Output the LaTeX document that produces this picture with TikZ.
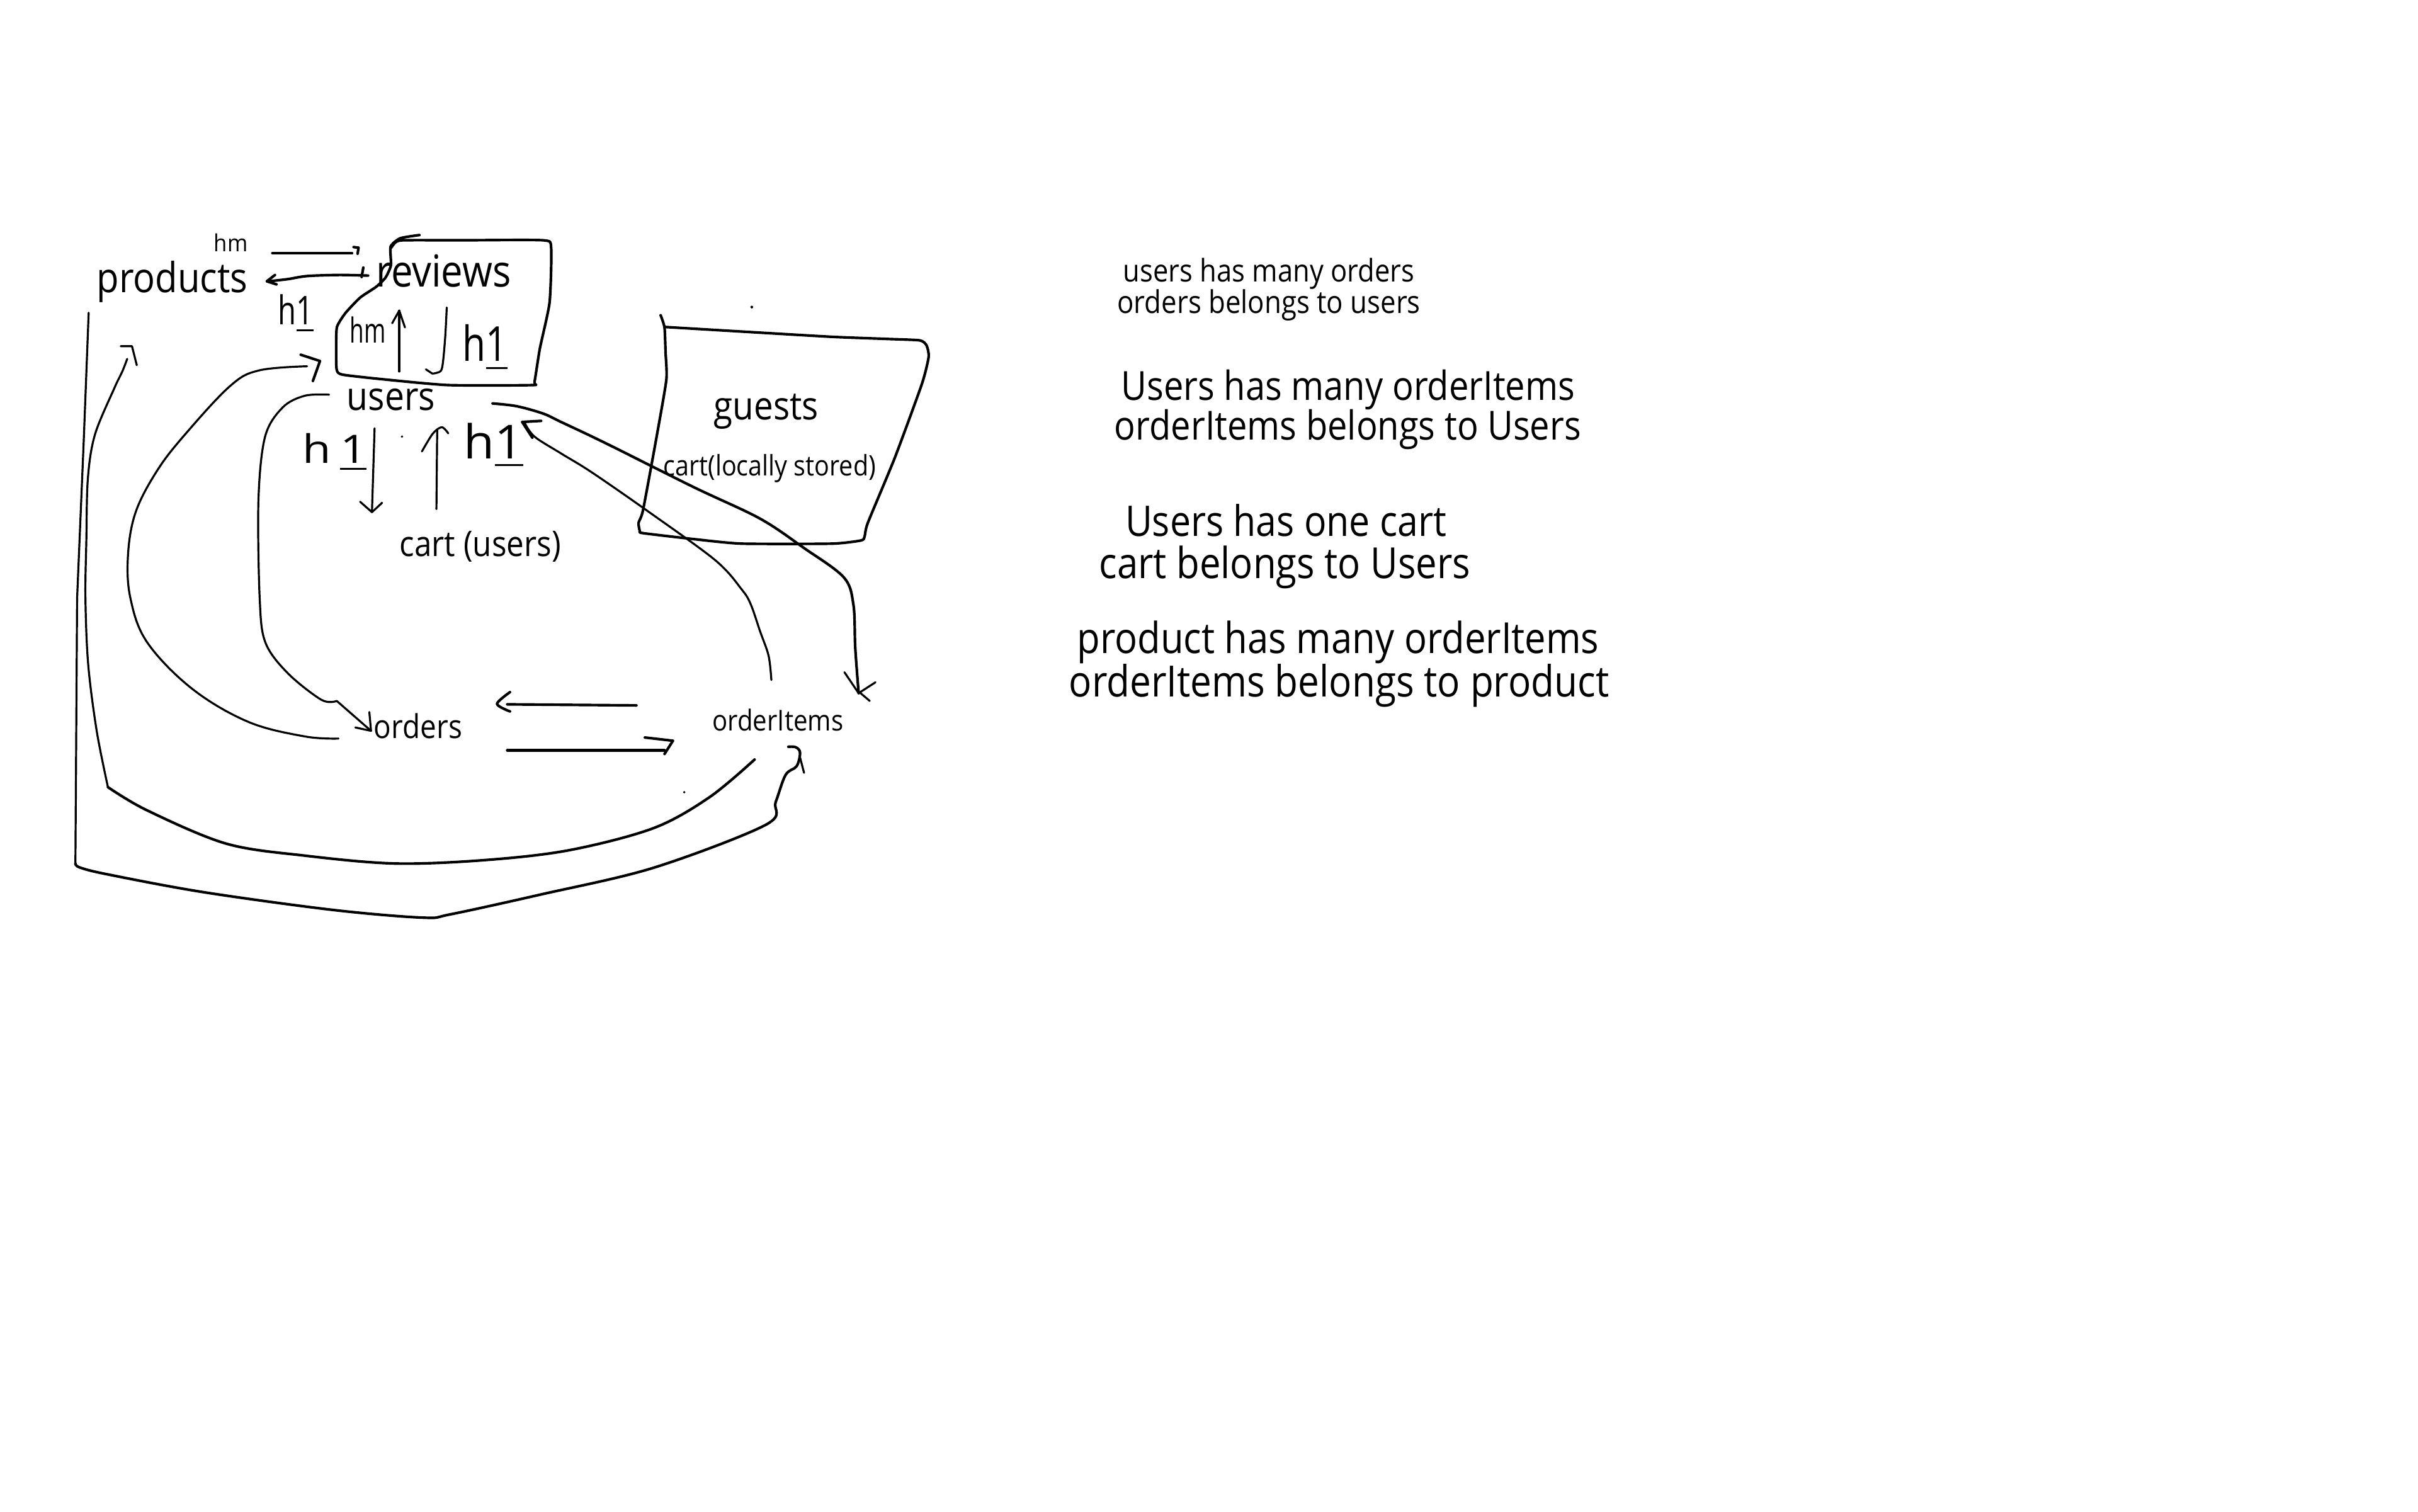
\documentclass[tikz,border=0pt]{standalone}
\usepackage{fontspec}
\usepackage{graphicx}
\setmainfont{Open Sans}[FakeStretch=0.88]
\newcommand{\fitw}[2]{\resizebox{#1pt}{!}{#2}}
\newcommand{\fitbox}[3]{\resizebox*{#1pt}{#2pt}{#3}}
\tikzset{
  lbl/.style={inner sep=0pt, outer sep=0pt, anchor=base west},
  hand/.style={inner sep=0pt, outer sep=0pt, anchor=south west},
  pen/.style={line width=1.7pt, line cap=round, line join=round},
  thinpen/.style={line width=1.3pt, line cap=round, line join=round},
  dot/.style={fill=black, draw=none},
}
\begin{document}
\begin{tikzpicture}[x=1pt,y=-1pt]
\useasboundingbox[fill=white] (0,0) rectangle (1568,980);

% ---- main labels ----
\node[lbl] (products) at (62.7,189.8) {\fitw{98}{products}};
\node[lbl] (reviews) at (243.9,185.8) {\fitw{87.5}{reviews}};
\node[lbl] (users) at (224.9,266.1) {\fitw{57.3}{users}};
\node[lbl] (guests) at (463,272.2) {\fitw{67.8}{guests}};
\node[lbl] (cartlocal) at (430.2,308.3) {\fitw{137.8}{cart(locally stored)}};
\node[lbl] (cartusers) at (259.2,360.7) {\fitw{104.6}{cart (users)}};
\node[lbl] (orders) at (242.5,478.9) {\fitw{57.2}{orders}};
\node[lbl] (orderitems) at (462,473.9) {\fitw{84.9}{orderItems}};

% ---- right-hand notes ----
\node[lbl] (t1a) at (728.4,182.9) {\fitw{188.8}{users has many orders}};
\node[lbl] (t1b) at (724.5,203.0) {\fitw{196.6}{orders belongs to users}};
\node[lbl] (t2a) at (727.1,259.6) {\fitw{294.2}{Users has many orderItems}};
\node[lbl] (t2b) at (722.7,285.1) {\fitw{302.5}{orderItems belongs to Users}};
\node[lbl] (t3a) at (729.7,347.7) {\fitw{208.3}{Users has one cart}};
\node[lbl] (t3b) at (712.8,375.1) {\fitw{240.8}{cart belongs to Users}};
\node[lbl] (t4a) at (698.4,423.8) {\fitw{338.5}{product has many orderItems}};
\node[lbl] (t4b) at (693.2,452.0) {\fitw{350.3}{orderItems belongs to product}};

% ---- handwritten marks ----
\node[hand] (hmtop) at (138.7,163.3) {\fitbox{21.9}{11.6}{hm}};
\node[hand] (h1prod) at (180.4,215.7) {\fitbox{22.9}{24.7}{h\underline{1}}};
\node[hand] (hmrev) at (226.8,222.5) {\fitbox{23.3}{17}{hm}};
\node[hand] (h1rev) at (300.1,240.5) {\fitbox{29.2}{30}{h\underline{1}}};
\node[hand] (h1usl) at (196.2,305.5) {\fitbox{41.6}{24.4}{h\,\underline{1}}};
\node[hand] (h1usr) at (300.8,303.5) {\fitbox{38.6}{29.2}{h\underline{1}}};

% ---- reviews box ----
\draw[pen] plot[smooth, tension=0.35] coordinates {(272,152.4) (259.5,154.5) (253.3,159.9) (253.5,172) (250,180) (243.9,186) (233.5,193) (224,203) (218.5,212) (218,225) (218.3,239.5) (222,242.9) (249,246) (290.8,249.7) (345,249.7) (346.6,247.7) (350.1,225.9) (356.4,196) (357.4,160.6) (352.2,155.8) (300,155.8) (261.6,155.8) (256.4,157.2) (253.7,160.6)};

% ---- guests box ----
\draw[pen] plot[smooth, tension=0.35] coordinates {(428.4,204.4) (430.9,212.3) (431.6,228.6) (432.1,246.3) (425.8,283.1) (417,330.7) (414.1,338.9) (414.9,344.3) (417,345.7) (452,349.8) (481.2,352.5) (539.5,352.5) (558.5,350.4) (560.7,347.7) (562.8,338.9) (580.3,296.7) (597.8,249) (602.2,231.4) (600.8,223.9) (596.4,220.7) (576,219.8) (539.5,218.4) (481.2,215) (430.9,212)};

% ---- products <-> reviews ----
\draw[pen] (176.6,164.2) -- (228.3,164.2);
\draw[pen] (229.3,160.2) -- (232.5,160.6) -- (231.9,164.5);
\draw[pen] plot[smooth] coordinates {(238.7,178.7) (219.9,178.3) (199.1,179) (186.6,181) (174.1,182.4)};
\draw[pen] (178.3,178.3) -- (173,182.4) -- (179.3,184.4);
\draw[pen] (235.6,173.5) -- (234.5,179.6);

% ---- arrows inside reviews box ----
\draw[thinpen] (258.9,240.9) -- (258.9,201.4);
\draw[thinpen] (254.3,209.6) -- (258.9,201.4) -- (262.6,212.3);
\draw[thinpen] plot[smooth] coordinates {(289.7,199.4) (288.6,220) (286.6,238.8) (283,241.8) (280.3,242.2)} -- (276.2,239.5);

% ---- users <-> cart ----
\draw[thinpen] (242.9,277.7) -- (241.2,332.1);
\draw[thinpen] (233.5,325.3) -- (241.2,332.1) -- (247.8,326);
\draw[thinpen] (283,330.1) -- (283.5,279);
\draw[thinpen] plot[smooth] coordinates {(273.6,292.7) (280.7,281.1) (286.5,277) (290.7,281)};

% ---- orders -> reviews (curve C) ----
\draw[thinpen] plot[smooth, tension=0.6] coordinates {(219.5,478.9) (197.6,477.5) (161.1,468.1) (124.7,446.7) (95.5,416.6) (84.6,388) (83,360) (88,332) (102,305) (120,281.7) (149.1,250.4) (167.9,240.2) (199.1,237.5)};
\draw[pen] (195,230) -- (207.5,234.1) -- (202.9,247);

% ---- users -> orders (curve D) ----
\draw[thinpen] plot[smooth, tension=0.55] coordinates {(213.4,255.9) (197.7,256.6) (183.4,264.1) (171.9,283.1) (167.6,324) (168.4,388) (172.1,416.6) (186.7,436.6) (208.5,453.8) (218.4,454.5)} -- (240.6,473.9);
\draw[thinpen] (239.5,461.7) -- (240.6,473.9) -- (230.4,471.7);

% ---- products -> orderItems, outer (curve A) ----
\draw[thinpen] (57.5,202.8) -- (54.3,285.8) -- (50,388) -- (48.9,559.9);
\draw[pen] plot[smooth, tension=0.55] coordinates {(48.9,559.9) (51.8,562.5) (70,567) (132,578.5) (215.8,590) (274.2,595) (292.4,592.8) (350.7,580) (423.7,562.7) (496.6,534.8) (503,520) (509.4,502.5) (516.6,496.8) (518.8,488) (516,484.5) (511.2,484.2)};
\draw[thinpen] (518.5,490) -- (521.4,501.1);

% ---- products -> orderItems, inner (curve B) ----
\draw[thinpen] (78.3,224.5) -- (85.6,224.5) -- (88.7,236.8);
\draw[thinpen] plot[smooth, tension=0.55] coordinates {(82.5,232.7) (79.3,240.9) (74.1,251.8) (61.6,281.7) (57,310) (56,350) (55.4,387.9) (57.2,430.9) (62.7,473.9) (70,510.4)};
\draw[pen] plot[smooth, tension=0.55] coordinates {(70,510.4) (95.5,525.5) (146.6,547) (197.6,554.8) (256,559.9) (314.3,557.7) (369,551.3) (423.7,537) (460.1,516.9) (489.3,492.5)};

% ---- users -> orderItems (curve E) ----
\draw[pen] plot[smooth, tension=0.55] coordinates {(319.4,261.6) (335.1,263.4) (352.3,268.2) (363.8,273.6) (392.4,287.2) (449.7,315.8) (492.7,336.2) (521.3,355.3) (547.1,374.3) (553.4,392) (554.6,420) (556.8,449.5)};
\draw[thinpen] (547.6,435.9) -- (556.8,449.5);
\draw[thinpen] (567.7,442.4) -- (557.5,449) -- (564,454.5);

% ---- orderItems -> users (curve F) ----
\draw[thinpen] plot[smooth, tension=0.55] coordinates {(340.3,274.3) (346.6,283.1) (363.8,294) (383.8,306.3) (421,332.1) (464,363.4) (481.2,382.5) (486.9,392) (492.9,409.4) (498.4,425.2) (500.2,440.9)};
\draw[pen] (350.9,272.9) -- (338.6,273.6) -- (345.2,283.8);

% ---- orders <-> orderItems ----
\draw[pen] (412.7,457.4) -- (328.9,456.7);
\draw[pen] plot[smooth] coordinates {(330.7,448.8) (322.3,456.4) (330.7,461.3)};
\draw[pen] (328.9,486.5) -- (430.9,486.5);
\draw[pen] (418.2,478.2) -- (436.4,480.3) -- (430.9,488.9);

% ---- stray dots ----
\fill[dot] (260.7,283.1) circle (0.8);
\fill[dot] (487.5,199.1) circle (0.9);
\fill[dot] (443.7,513.7) circle (0.8);
\end{tikzpicture}
\end{document}
